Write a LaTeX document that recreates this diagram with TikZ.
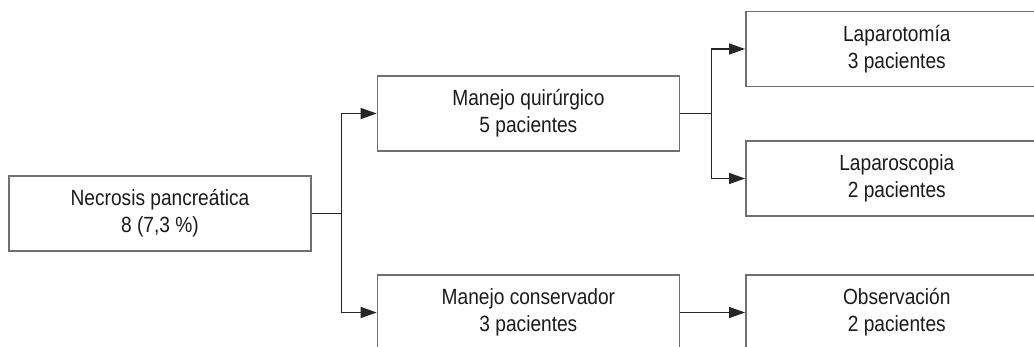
\documentclass[tikz,border=0pt]{standalone}
\usepackage{fontspec}
\setmainfont{Liberation Sans}[FakeStretch=0.87]
\usepackage{tikz}
\usetikzlibrary{arrows.meta, positioning}
\definecolor{boxline}{HTML}{707070}
\definecolor{linkline}{HTML}{262626}
\definecolor{boxtext}{HTML}{1A1A1A}
\tikzstyle{box} = [rectangle, minimum width=302pt, minimum height=75pt, text centered, align=center, draw=boxline, line width=1.4pt, text=boxtext, font=\fontsize{22}{27}\selectfont]
\tikzstyle{link} = [draw=linkline, line width=1.2pt]
\tikzstyle{arrow} = [link, -{Triangle[length=16pt,width=11pt]}]

\begin{document}
\begin{tikzpicture}[node distance=65pt]
\useasboundingbox (0,0) rectangle (1034pt,-346pt);
\clip (0,0) rectangle (1034pt,-346pt);

% Root
\node (nec) [box] at (160pt,-213.5pt) {Necrosis pancreática\\8 (7,3 \%)};

% Management
\node (quir) [box, right=of nec, yshift=100pt] {Manejo quirúrgico\\5 pacientes};
\node (cons) [box, right=of nec, yshift=-99pt] {Manejo conservador\\3 pacientes};

% Outcomes
\node (lapt) [box, right=of quir, yshift=64.5pt] {Laparotomía\\3 pacientes};
\node (lapc) [box, right=of quir, yshift=-65pt] {Laparoscopia\\2 pacientes};
\node (obs) [box, right=of cons] {Observación\\2 pacientes};

% Split points
\coordinate [right=30pt of nec] (split1);
\coordinate [right=31pt of quir] (split2);

% Arrows
\draw [link] (nec) -- (split1);
\draw [arrow] (split1) |- (quir);
\draw [arrow] (split1) |- (cons);
\draw [link] (quir) -- (split2);
\draw [arrow] (split2) |- (lapt);
\draw [arrow] (split2) |- (lapc);
\draw [arrow] (cons) -- (obs);

\end{tikzpicture}
\end{document}
